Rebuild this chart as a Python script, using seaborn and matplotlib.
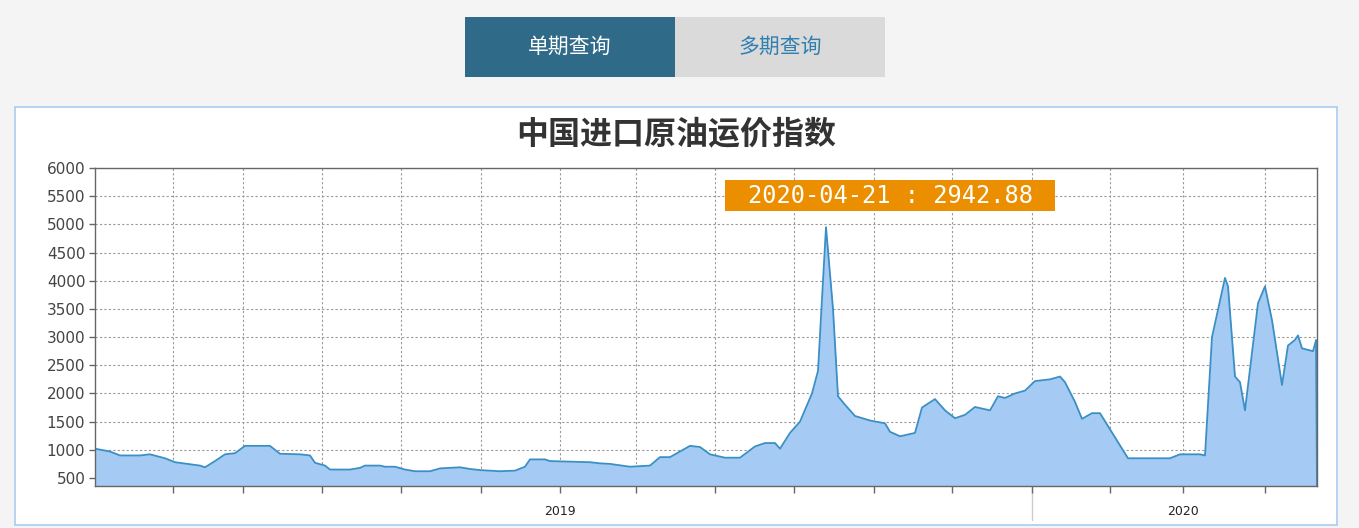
import numpy as np
import pandas as pd
import matplotlib
matplotlib.use("Agg")
import matplotlib.pyplot as plt
import seaborn as sns
from matplotlib.patches import Rectangle

# data (x in axis units along the time axis, 0..1222)
pos = [0, 15, 25, 45, 55, 70, 80, 105, 110, 120, 130, 140, 150, 175, 185, 205, 215, 220,
       230, 235, 255, 265, 270, 285, 290, 300, 310, 320, 335, 345, 365, 375, 385, 405, 420,
       430, 435, 450, 455, 475, 495, 505, 515, 535, 555, 565, 575, 595, 605, 615, 630, 645,
       660, 670, 680, 685, 695, 705, 717, 723, 731, 738, 743, 750, 760, 775, 790, 795, 805,
       820, 827, 840, 850, 860, 870, 880, 895, 903, 910, 920, 930, 940, 955, 965, 970, 980,
       987, 997, 1005, 1033, 1075, 1085, 1105, 1110, 1117, 1130, 1133, 1140, 1145, 1150,
       1163, 1170, 1177, 1187, 1193, 1200, 1203, 1207, 1218, 1221, 1222]
value = [1020, 970, 900, 900, 920, 850, 780, 720, 690, 800, 920, 940, 1070, 1070, 930, 920,
         900, 770, 720, 650, 650, 680, 720, 720, 700, 700, 650, 620, 620, 670, 690, 660, 640,
         620, 630, 700, 830, 830, 800, 790, 780, 760, 750, 700, 720, 870, 870, 1070, 1050, 920,
         860, 860, 1060, 1120, 1120, 1020, 1300, 1500, 2000, 2400, 4950, 3500, 1950, 1800,
         1600, 1520, 1470, 1320, 1240, 1300, 1750, 1900, 1700, 1560, 1620, 1760, 1700, 1950,
         1920, 2000, 2050, 2220, 2250, 2300, 2200, 1850, 1550, 1650, 1650, 850, 850, 920, 920,
         900, 3000, 4050, 3900, 2300, 2200, 1700, 3600, 3900, 3300, 2150, 2850, 2950, 3030,
         2800, 2750, 2943, 360]
tick_pos = [78, 148, 227, 306, 386, 465, 541, 620, 699, 779, 857, 937, 1015, 1088, 1170]
tick_labels = ["", "", "", "", "", "2019", "", "", "", "", "", "", "", "2020", ""]
yticks = [500, 1000, 1500, 2000, 2500, 3000, 3500, 4000, 4500, 5000, 5500, 6000]
title = "中国进口原油运价指数"
tooltip = "2020-04-21 : 2942.88"

df = pd.DataFrame({"pos": pos, "value": value})

sns.set_theme(style="white")
plt.rcParams["font.family"] = ["Noto Sans CJK SC", "DejaVu Sans"]

W, H = 1359, 528
fig = plt.figure(figsize=(W / 100, H / 100), dpi=100)
fig.patch.set_facecolor("#f4f4f4")

def fx(px): return px / W
def fy(py): return 1 - py / H

# top buttons
fig.patches.append(Rectangle((fx(465), fy(77)), fx(675) - fx(465), fy(17) - fy(77),
                             transform=fig.transFigure, facecolor="#2f6a88", edgecolor="none"))
fig.patches.append(Rectangle((fx(675), fy(77)), fx(885) - fx(675), fy(17) - fy(77),
                             transform=fig.transFigure, facecolor="#dadada", edgecolor="none"))
fig.text(fx(570), fy(47), "单期查询", color="white", fontsize=15, ha="center", va="center")
fig.text(fx(780), fy(47), "多期查询", color="#2f7fb0", fontsize=15, ha="center", va="center")

# white panel (drawn behind the axes)
fig.patches.append(Rectangle((fx(15), fy(525)), fx(1337) - fx(15), fy(107) - fy(525),
                             transform=fig.transFigure, facecolor="white",
                             edgecolor="#a9cdf0", linewidth=1.2, zorder=-5))
fig.text(fx(676), fy(134), title, color="#333333", fontsize=23, fontweight="bold",
         ha="center", va="center")
# thin marker line under the axis
fig.add_artist(plt.Line2D([fx(1032), fx(1032)], [fy(490), fy(520)],
                          transform=fig.transFigure, color="#cccccc", linewidth=1))

ax = fig.add_axes([fx(95), fy(486), fx(1317) - fx(95), fy(168) - fy(486)])
ax.set_zorder(5)
ax.set_facecolor("white")
ax.fill_between(df["pos"], df["value"], 300, color="#a5cbf4", linewidth=0)
sns.lineplot(data=df.iloc[:-1], x="pos", y="value", ax=ax, color="#3a8fc4", linewidth=1.3)
ax.plot(df["pos"].iloc[-2:], df["value"].iloc[-2:], color="#3a8fc4", linewidth=1.3)

ax.set_xlim(0, 1222)
ax.set_ylim(358, 6000)
ax.set_yticks(yticks)
ax.set_yticklabels([str(v) for v in yticks], fontsize=11, color="#444444",
                   family="DejaVu Sans")
ax.set_xticks(tick_pos)
ax.set_xticklabels(tick_labels, fontsize=9, color="#222222", family="DejaVu Sans")
ax.tick_params(axis="x", bottom=True, direction="out", length=5, width=1,
               color="#666666", pad=9)
ax.tick_params(axis="y", left=True, direction="out", length=4, width=1,
               color="#666666", pad=3)
ax.grid(True, linestyle=(0, (2, 2)), color="#999999", linewidth=0.8)
ax.set_xlabel("")
ax.set_ylabel("")
for s in ax.spines.values():
    s.set_color("#666666")
    s.set_linewidth(1)

# tooltip
fig.patches.append(Rectangle((fx(725), fy(211)), fx(1055) - fx(725), fy(180) - fy(211),
                             transform=fig.transFigure, facecolor="#eb8f00",
                             edgecolor="none", zorder=10))
fig.text(fx(890), fy(196), tooltip, color="white", fontsize=17, ha="center",
         va="center", family="DejaVu Sans Mono", zorder=11)

fig.savefig("out.png", dpi=100, facecolor=fig.get_facecolor())
